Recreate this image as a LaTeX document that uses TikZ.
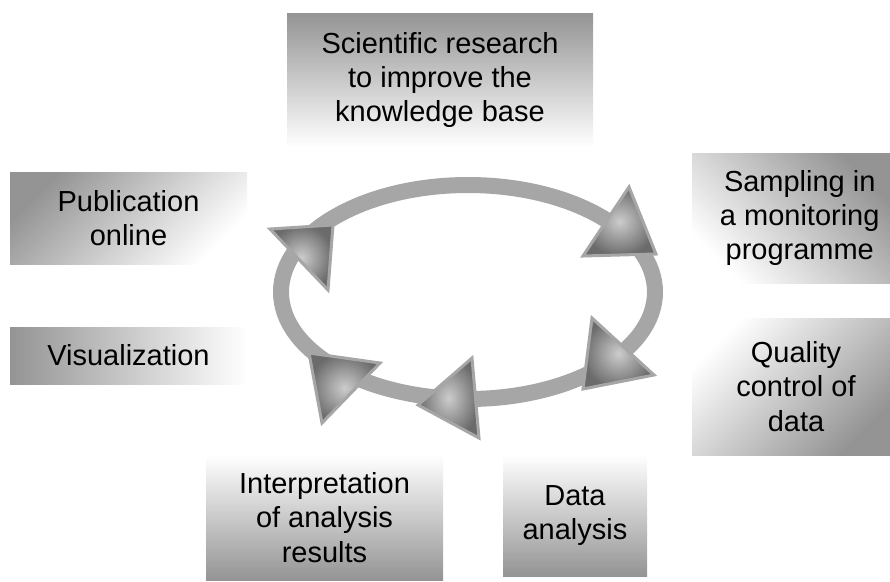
\documentclass[tikz,border=0pt]{standalone}
\usepackage{fontspec}
\setmainfont{Liberation Sans}
\usetikzlibrary{positioning}
\definecolor{boxgray}{gray}{0.58}
\definecolor{ringgray}{gray}{0.65}
\definecolor{tridark}{gray}{0.42}
\definecolor{trilight}{gray}{0.80}
\tikzset{stage/.style={inner sep=0pt, align=center, font=\fontsize{16.5}{19.5}\selectfont}}
\tikzset{ring/.style={draw=ringgray, line width=0.32cm}}
\tikzset{tri/.style={draw=ringgray, line width=0.06cm, line join=miter, inner color=trilight, outer color=tridark}}

\begin{document}
\begin{tikzpicture}
\useasboundingbox (0,0) rectangle (17.8,-11.62);

\node[stage, minimum width=6.12cm, minimum height=2.68cm, top color=boxgray, bottom color=white] (research) at (8.80,-1.60) {Scientific research\\to improve the\\knowledge base};
\node[stage, minimum width=3.96cm, minimum height=2.60cm, top color=boxgray, bottom color=white, shading angle=-45] (sampling) at (15.82,-4.36) {\hspace{0.35cm}Sampling in\\\hspace{0.35cm}a monitoring\\\hspace{0.35cm}programme};
\node[stage, minimum width=3.96cm, minimum height=2.74cm, top color=white, bottom color=boxgray, shading angle=45] (quality) at (15.82,-7.73) {\hspace{0.2cm}Quality\\\hspace{0.2cm}control of\\\hspace{0.2cm}data};
\node[stage, minimum width=2.88cm, minimum height=2.42cm, top color=white, bottom color=boxgray] (analysis) at (11.50,-10.31) {Data\\analysis};
\node[stage, minimum width=4.74cm, minimum height=2.50cm, top color=white, bottom color=boxgray] (interpret) at (6.49,-10.35) {Interpretation\\of analysis\\results};
\node[stage, minimum width=4.74cm, minimum height=1.14cm, left color=boxgray, right color=white] (visual) at (2.57,-7.11) {Visualization};
\node[stage, minimum width=4.74cm, minimum height=1.84cm, top color=boxgray, bottom color=white, shading angle=45] (publish) at (2.57,-4.36) {Publication\\online};

% cycle
\draw[ring] (9.36,-5.84) ellipse [x radius=3.74cm, y radius=2.14cm];

\shade[tri] (12.58,-3.74) -- (11.66,-5.12) -- (13.12,-5.08) -- cycle;
\shade[tri] (11.84,-6.36) -- (11.66,-7.78) -- (13.08,-7.50) -- cycle;
\shade[tri] (9.44,-7.16) -- (8.36,-8.10) -- (9.58,-8.76) -- cycle;
\shade[tri] (6.18,-7.06) -- (7.60,-7.26) -- (6.44,-8.46) -- cycle;
\shade[tri] (5.40,-4.58) -- (6.66,-4.50) -- (6.56,-5.80) -- cycle;
\end{tikzpicture}
\end{document}
